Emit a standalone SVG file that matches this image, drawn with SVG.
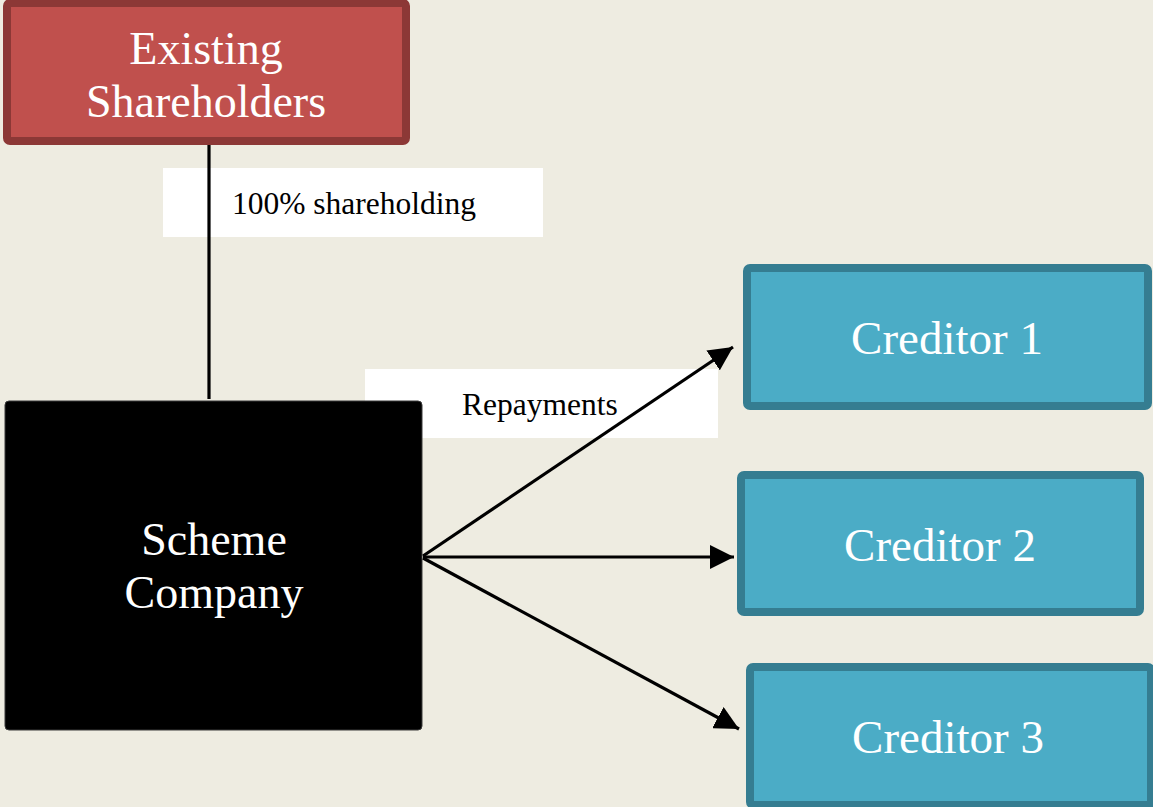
<svg xmlns="http://www.w3.org/2000/svg" width="1153" height="807" viewBox="0 0 1153 807">
<defs>
<style>
.bg{fill:#EEECE1}
.lbl{fill:#FFFFFF}
.red{fill:#C0504D;stroke:#8C3836;stroke-width:8}
.blue{fill:#4BACC6;stroke:#357D91;stroke-width:8}
.blk{fill:#000000;stroke:#3a3a3a;stroke-width:1}
.t{font-family:"Liberation Serif","Times New Roman",serif;fill:#FFFFFF;text-anchor:middle}
.big{font-size:46px}
.cred{font-size:47px}
.small{font-family:"Liberation Serif","Times New Roman",serif;font-size:31.5px;fill:#000000}
.con{stroke:#000000;stroke-width:3.2;fill:none}
</style>
<marker id="arr" viewBox="0 0 10 10" refX="10" refY="5" markerWidth="7.5" markerHeight="7.5" markerUnits="strokeWidth" orient="auto">
<path d="M0,0 L10,5 L0,10 Z" fill="#000000"/>
</marker>
</defs>
<rect class="bg" x="0" y="0" width="1153" height="807"/>
<g id="label-boxes">
<rect class="lbl" x="163" y="168" width="380" height="69"/>
<rect class="lbl" x="365" y="369" width="353" height="69"/>
</g>
<g id="existing-shareholders">
<rect class="red" x="7" y="3" width="399" height="138" rx="3"/>
<text class="t big" x="206" y="64">Existing</text>
<text class="t big" x="206" y="117">Shareholders</text>
</g>
<g id="scheme-company">
<rect class="blk" x="5" y="401" width="417" height="329" rx="4"/>
<text class="t big" x="214" y="555">Scheme</text>
<text class="t big" x="214" y="608">Company</text>
</g>
<g id="creditor-1">
<rect class="blue" x="747" y="268" width="401" height="138" rx="3"/>
<text class="t cred" x="947" y="354">Creditor 1</text>
</g>
<g id="creditor-2">
<rect class="blue" x="741" y="475" width="399" height="137" rx="3"/>
<text class="t cred" x="940" y="561">Creditor 2</text>
</g>
<g id="creditor-3">
<rect class="blue" x="750" y="667" width="401" height="138" rx="3"/>
<text class="t cred" x="948" y="753">Creditor 3</text>
</g>
<g id="connectors">
<line class="con" x1="209" y1="145" x2="209" y2="399"/>
<line class="con" x1="423" y1="556" x2="733" y2="347" marker-end="url(#arr)"/>
<line class="con" x1="423" y1="557" x2="734" y2="557" marker-end="url(#arr)"/>
<line class="con" x1="423" y1="558" x2="739" y2="729" marker-end="url(#arr)"/>
</g>
<g id="labels">
<text class="small" x="232" y="214">100% shareholding</text>
<text class="small" x="462" y="415">Repayments</text>
</g>
</svg>
